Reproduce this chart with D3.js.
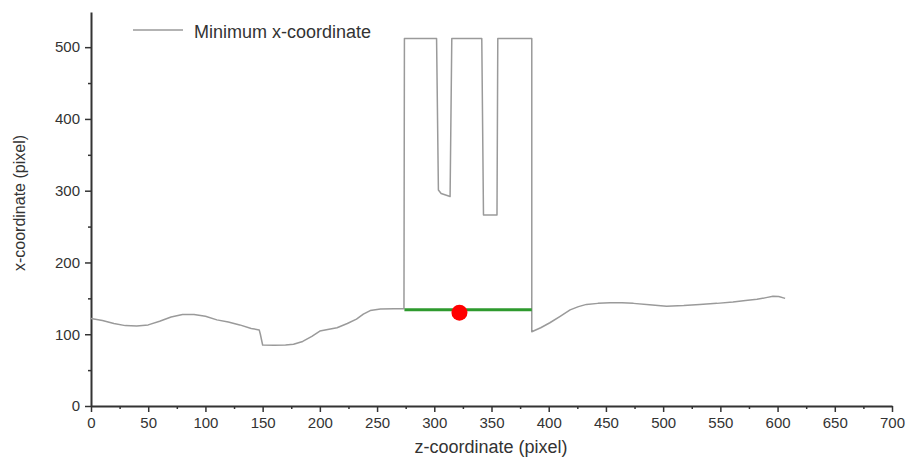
<!DOCTYPE html>
<html>
<head>
<meta charset="utf-8">
<script src="https://cdn.jsdelivr.net/npm/d3@7"></script>
<style>
  body { margin: 0; background: #fff; }
  svg { display: block; font-family: 'Liberation Sans', Arial, sans-serif; }
</style>
</head>
<body>
<svg id="chart"></svg>
<script>
'use strict';
// minimum x-coordinate along z
const Z_VALUES = [0, 10, 20, 30, 40, 50, 60, 70, 80, 90, 100, 110, 120, 130, 140, 147, 148, 150,
  160, 170, 177, 185, 193, 200, 208, 215, 224, 232, 238, 244, 253, 265, 273.5,
  273.9, 302, 303.6, 306, 313.8, 315.3, 341.5, 343, 354.8, 355.5, 383.7, 385.2,
  385.2, 393, 401, 410, 418.7, 426, 433, 443, 453.7, 464, 474, 488, 503, 518, 532, 547, 561, 572, 582, 590, 596, 601, 606.6];
const X_VALUES = [122, 119, 115, 112, 111.5, 113, 118, 124, 127.5, 127.5, 125, 120, 117, 113, 108, 106, 100, 85,
  84.5, 85, 86, 90, 97, 104.5, 107, 109, 115, 121, 128, 133, 135, 135.5, 135.5,
  512, 512, 301, 296, 292, 512, 512, 266, 266, 512, 512, 512,
  103.5, 109, 116, 125, 134, 138.5, 141.6, 143, 143.9, 143.8, 143, 141, 139, 140, 141.6, 143, 145, 147, 148.6, 151, 153, 152.5, 150];
const X_TICKS = [0, 50, 100, 150, 200, 250, 300, 350, 400, 450, 500, 550, 600, 650, 700];
const Y_TICKS = [0, 100, 200, 300, 400, 500];
const SEGMENT_Z = [273.9, 385.2];
const SEGMENT_X = 134;
const POINT = { z: 322, x: 130 };
const LEGEND_LABEL = 'Minimum x-coordinate';

const W = 909, H = 461;
const margin = { top: 12, right: 17, bottom: 55, left: 91 };

const svg = d3.select('#chart').attr('width', W).attr('height', H);

let x = d3.scaleLinear().domain([0, 700]).range([margin.left, W - margin.right]);
let y = d3.scaleLinear().domain([0, 549]).range([406, margin.top]);

// minor ticks
let xMinor = d3.range(25, 700, 50);
let yMinor = d3.range(50, 549, 100);

svg.append('g')
  .attr('transform', 'translate(0,406)')
  .call(d3.axisBottom(x).tickValues(xMinor).tickSize(3).tickFormat(''))
  .call((g) => g.select('.domain').remove())
  .call((g) => g.selectAll('.tick line').attr('stroke', '#333').attr('stroke-width', 1.5));

svg.append('g')
  .attr('transform', `translate(${margin.left},0)`)
  .call(d3.axisLeft(y).tickValues(yMinor).tickSize(3).tickFormat(''))
  .call((g) => g.select('.domain').remove())
  .call((g) => g.selectAll('.tick line').attr('stroke', '#333').attr('stroke-width', 1.5));

// X-Axis
svg.append('g')
  .attr('transform', 'translate(0,406)')
  .call(d3.axisBottom(x).tickValues(X_TICKS).tickSize(6).tickSizeOuter(0).tickPadding(5))
  .call((g) => g.select('.domain').attr('stroke', '#333').attr('stroke-width', 2))
  .call((g) => g.selectAll('.tick line').attr('stroke', '#333').attr('stroke-width', 1.5))
  .call((g) => g.selectAll('.tick text').attr('fill', '#333').style('font-size', '15px')
    .style('font-family', "'Liberation Sans', Arial, sans-serif"));

// Y-Axis
svg.append('g')
  .attr('transform', `translate(${margin.left},0)`)
  .call(d3.axisLeft(y).tickValues(Y_TICKS).tickSize(6).tickSizeOuter(0).tickPadding(5))
  .call((g) => g.select('.domain').attr('stroke', '#333').attr('stroke-width', 2))
  .call((g) => g.selectAll('.tick line').attr('stroke', '#333').attr('stroke-width', 1.5))
  .call((g) => g.selectAll('.tick text').attr('fill', '#333').style('font-size', '15px')
    .style('font-family', "'Liberation Sans', Arial, sans-serif"));

// axis titles
svg.append('text')
  .attr('x', 491).attr('y', 453)
  .attr('text-anchor', 'middle')
  .attr('fill', '#333')
  .style('font-size', '18px')
  .text('z-coordinate (pixel)');

svg.append('text')
  .attr('transform', 'translate(25,203) rotate(-90)')
  .attr('text-anchor', 'middle')
  .attr('fill', '#333')
  .style('font-size', '16px')
  .text('x-coordinate (pixel)');

// series
let data = Z_VALUES.map((z, i) => ({ z, v: X_VALUES[i] }));
let line = d3.line().x((d) => x(d.z)).y((d) => y(d.v));

svg.append('path')
  .datum(data)
  .attr('fill', 'none')
  .attr('stroke', '#9a9a9a')
  .attr('stroke-width', 1.5)
  .attr('stroke-linejoin', 'round')
  .attr('d', line);

// green segment + red point
svg.append('line')
  .attr('x1', x(SEGMENT_Z[0])).attr('x2', x(SEGMENT_Z[1]))
  .attr('y1', y(SEGMENT_X)).attr('y2', y(SEGMENT_X))
  .attr('stroke', '#2e9a2e')
  .attr('stroke-width', 3);

svg.append('circle')
  .attr('cx', x(POINT.z)).attr('cy', y(POINT.x))
  .attr('r', 8)
  .attr('fill', '#ff0000');

// legend
svg.append('line')
  .attr('x1', 133).attr('x2', 183)
  .attr('y1', 30).attr('y2', 30)
  .attr('stroke', '#9a9a9a')
  .attr('stroke-width', 1.5);

svg.append('text')
  .attr('x', 194).attr('y', 38)
  .attr('fill', '#333')
  .style('font-size', '18px')
  .text(LEGEND_LABEL);
</script>
</body>
</html>
